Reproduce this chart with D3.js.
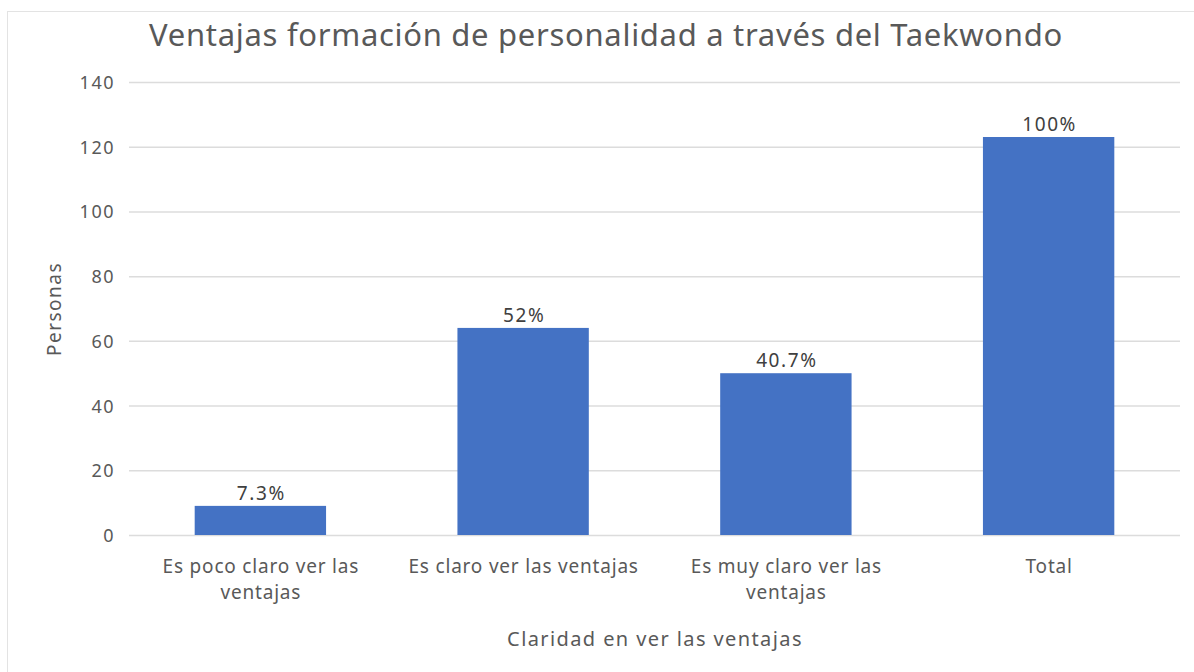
<!DOCTYPE html>
<html>
<head>
<meta charset="utf-8">
<script src="https://cdn.jsdelivr.net/npm/d3@7"></script>
<style>
  body { margin: 0; background: #fff; }
  svg text { font-family: "Noto Sans", "Open Sans", sans-serif; }
</style>
</head>
<body>
<div id="chart"></div>
<script>
// data
const categories = ["Es poco claro ver las ventajas", "Es claro ver las ventajas", "Es muy claro ver las ventajas", "Total"];
const categoryLines = [["Es poco claro ver las", "ventajas"], ["Es claro ver las ventajas"], ["Es muy claro ver las", "ventajas"], ["Total"]];
const personas = [9, 64, 50, 123];
const pctLabels = ["7.3%", "52%", "40.7%", "100%"];
const yTicks = [0, 20, 40, 60, 80, 100, 120, 140];

const width = 1194, height = 672;
const margin = {left: 129, right: 14, top: 82, bottom: 137};
const textColor = "#595959";

const svg = d3.select("#chart").append("svg")
    .attr("width", width).attr("height", height);

// chart border
svg.append("rect")
    .attr("x", 7.5).attr("y", 11.5)
    .attr("width", width).attr("height", height)
    .attr("fill", "none").attr("stroke", "#e3e3e3");

const x = d3.scaleBand()
    .domain(categories)
    .range([margin.left, width - margin.right])
    .paddingInner(0.5).paddingOuter(0.25);

const y = d3.scaleLinear()
    .domain([0, 140])
    .range([height - margin.bottom, margin.top]);

// gridlines + tick labels
const yAxis = svg.append("g")
    .attr("transform", `translate(${margin.left},0)`)
    .call(d3.axisLeft(y).tickValues(yTicks).tickSize(-(width - margin.left - margin.right)).tickPadding(14));
yAxis.select(".domain").remove();
yAxis.selectAll(".tick line").attr("stroke", "#dcdcdc").attr("stroke-width", 1.5);
yAxis.selectAll(".tick text")
    .attr("fill", textColor)
    .attr("dy", "0.36em")
    .style("font-size", "18px")
    .style("letter-spacing", "1.5px");

// bars
svg.selectAll(".bar").data(personas).enter().append("rect")
    .attr("class", "bar")
    .attr("x", (d, i) => x(categories[i]))
    .attr("y", d => y(d))
    .attr("width", x.bandwidth())
    .attr("height", d => y(0) - y(d))
    .attr("fill", "#4472C4");

// data labels
svg.selectAll(".perc").data(personas).enter().append("text")
    .attr("class", "perc")
    .attr("x", (d, i) => x(categories[i]) + x.bandwidth() / 2 + 1)
    .attr("y", d => y(d) - 6)
    .attr("text-anchor", "middle")
    .attr("fill", "#404040")
    .style("font-size", "19px")
    .style("letter-spacing", "1.6px")
    .text((d, i) => pctLabels[i]);

// category labels
categoryLines.forEach((lines, i) => {
    const cx = x(categories[i]) + x.bandwidth() / 2 + 0.5;
    const t = svg.append("text")
        .attr("x", cx)
        .attr("y", 573)
        .attr("text-anchor", "middle")
        .attr("fill", textColor)
        .style("font-size", "19px")
        .style("letter-spacing", "0.8px");
    lines.forEach((l, j) => {
        t.append("tspan")
            .attr("x", cx)
            .attr("dy", j == 0 ? 0 : 26)
            .text(l);
    });
});

// titles
svg.append("text")
    .attr("x", 606).attr("y", 46)
    .attr("text-anchor", "middle")
    .attr("fill", textColor)
    .style("font-size", "31px")
    .style("letter-spacing", "0.7px")
    .text("Ventajas formación de personalidad a través del Taekwondo");

svg.append("text")
    .attr("x", 655).attr("y", 646)
    .attr("text-anchor", "middle")
    .attr("fill", textColor)
    .style("font-size", "20px")
    .style("letter-spacing", "1.4px")
    .text("Claridad en ver las ventajas");

svg.append("text")
    .attr("transform", "translate(61,309) rotate(-90)")
    .attr("text-anchor", "middle")
    .attr("fill", textColor)
    .style("font-size", "19px")
    .style("letter-spacing", "1.5px")
    .text("Personas");
</script>
</body>
</html>
